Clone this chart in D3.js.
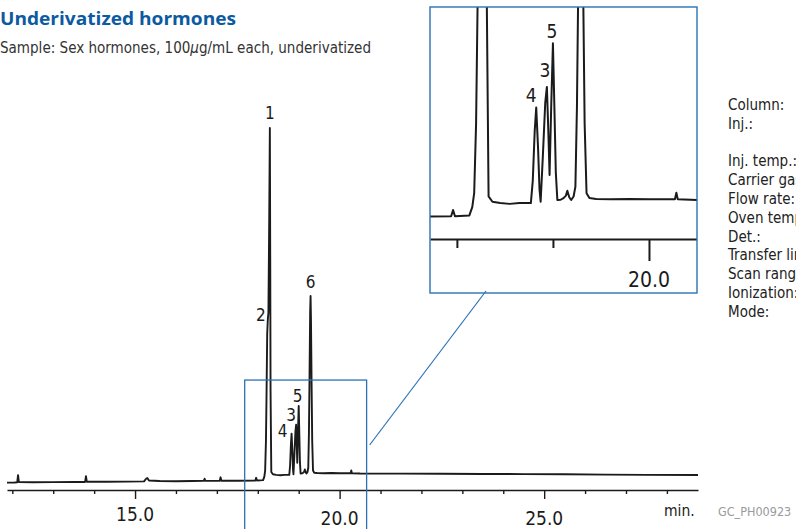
<!DOCTYPE html>
<html>
<head>
<meta charset="utf-8">
<script src="https://d3js.org/d3.v7.min.js"></script>
<style>
  body { margin: 0; background: #fff; }
  svg { display: block; }
  .narrow { font-family: 'Liberation Sans Narrow', 'DejaVu Sans Condensed', 'Roboto Condensed', 'DejaVu Sans', sans-serif; }
</style>
</head>
<body>
<div id="chart"></div>
<script>
// GC-MS trace, retention time (min) vs. detector response (% of peak 1)
var traceTimes = [
  11.87, 12.05, 12.12, 12.14, 12.16, 12.5, 13.0, 13.5, 13.78, 13.8, 13.82, 14.3, 14.8,
  15.22, 15.27, 15.3, 15.34, 15.6, 16.0, 16.4, 16.68, 16.7, 16.72, 17.07, 17.09, 17.11,
  17.5, 17.94, 17.96, 17.98, 18.13, 18.16, 18.18, 18.20, 18.215, 18.23, 18.245, 18.26,
  18.28, 18.295, 18.305, 18.312, 18.33, 18.37, 18.45, 18.55, 18.65, 18.77, 18.79, 18.81,
  18.826, 18.845, 18.86, 18.872, 18.895, 18.92, 18.937, 18.952, 18.965, 18.982, 19.0,
  19.015, 19.03, 19.046, 19.08, 19.11, 19.135, 19.15, 19.17, 19.19, 19.215, 19.234,
  19.25, 19.265, 19.28, 19.29, 19.30, 19.315, 19.33, 19.35, 19.38, 19.45, 19.6, 19.8,
  20.0, 20.2, 20.27, 20.285, 20.3, 20.5, 21.5, 22.5, 23.5, 24.5, 25.5, 26.5, 27.5, 28.76
];
var traceValues = [
  0.1, 0.15, 0.2, 2.2, 0.25, 0.2, 0.25, 0.3, 0.3, 1.9, 0.35, 0.35, 0.4,
  0.45, 1.2, 1.4, 0.7, 0.55, 0.5, 0.55, 0.6, 1.2, 0.6, 0.65, 1.6, 0.65,
  0.65, 0.7, 1.46, 0.7, 0.8, 1.8, 3.5, 12, 26, 42, 46, 48,
  75, 100, 60, 26, 3.1, 2.46, 2.3, 2.2, 2.3, 2.3, 5, 11,
  13.9, 9, 4, 2.46, 8, 14.5, 16.4, 11, 5.7, 14, 21.7,
  14, 6, 2.67, 2.7, 2.9, 3.2, 3.8, 3.0, 2.67, 3.1, 4.3,
  14, 30, 48, 52.7, 46, 28, 12, 3.5, 2.9, 2.8, 2.75, 2.8,
  2.75, 2.75, 2.75, 3.55, 2.75, 2.67, 2.65, 2.6, 2.55, 2.5, 2.45, 2.35, 2.3, 2.25
];

// numbered peaks
var peakNames = ["1", "2", "3", "4", "5", "6"];
var peakTimes = [18.295, 18.245, 18.937, 18.826, 19.0, 19.29];
var peakValues = [100, 46, 16.4, 13.9, 21.7, 52.7];

// axis ticks
var mainTicks = d3.range(12, 29);
var mainLabels = [15, 20, 25];
var insetTicks = [18, 19, 20];
var insetLabels = [20];

var infoLabels = ["Column:", "Inj.:", "", "Inj. temp.:", "Carrier gas:", "Flow rate:",
  "Oven temp.:", "Det.:", "Transfer line:", "Scan range:", "Ionization:", "Mode:"];

var W = 796, H = 529;
var BLUE = "#2a72b5";
var INK = "#1b1b1b";

var trace = traceTimes.map(function (t, i) { return { t: t, v: traceValues[i] }; });

var svg = d3.select("#chart").append("svg")
  .attr("width", W)
  .attr("height", H);

// header
svg.append("text")
  .attr("x", 0).attr("y", 25)
  .attr("font-family", "'Open Sans', 'Noto Sans', sans-serif")
  .attr("font-weight", "bold")
  .attr("font-size", 18.5)
  .attr("fill", "#0b5aa2")
  .attr("textLength", 236)
  .attr("lengthAdjust", "spacingAndGlyphs")
  .text("Underivatized hormones");

var sub = svg.append("text")
  .attr("class", "narrow")
  .attr("x", 0).attr("y", 53)
  .attr("font-size", 16.5)
  .attr("fill", "#333")
  .attr("textLength", 371)
  .attr("lengthAdjust", "spacingAndGlyphs");
sub.append("tspan").text("Sample: Sex hormones, 100");
sub.append("tspan").attr("font-style", "italic").text("\u03bc");
sub.append("tspan").text("g/mL each, underivatized");

// main chromatogram
var x = d3.scaleLinear().domain([11.87, 28.76]).range([7, 698]);
var y = d3.scaleLinear().domain([0, 100]).range([483, 128]);

var line = d3.line()
  .x(function (d) { return x(d.t); })
  .y(function (d) { return y(d.v); });

svg.append("path")
  .datum(trace)
  .attr("d", line)
  .attr("fill", "none")
  .attr("stroke", INK)
  .attr("stroke-width", 1.9)
  .attr("stroke-linejoin", "round");

var axisY = 490;
var gx = svg.append("g")
  .attr("transform", "translate(0," + axisY + ")")
  .call(d3.axisBottom(x).tickValues(mainTicks).tickSize(4).tickSizeOuter(0).tickFormat(""));
gx.select(".domain").attr("stroke", INK).attr("stroke-width", 1.6);
gx.selectAll(".tick line")
  .attr("stroke", INK)
  .attr("stroke-width", 1.4)
  .attr("y2", function (d) { return mainLabels.indexOf(d) >= 0 ? 9 : 4; });

svg.selectAll(".main-label")
  .data(mainLabels)
  .enter().append("text")
  .attr("class", "narrow main-label")
  .attr("x", function (d) { return x(d); })
  .attr("y", function (d, i) { return i === 0 ? 521 : 525; })
  .attr("text-anchor", "middle")
  .attr("font-size", 19)
  .attr("fill", INK)
  .text(function (d) { return d.toFixed(1); });

svg.append("text")
  .attr("class", "narrow")
  .attr("x", 664).attr("y", 516)
  .attr("font-size", 15.5)
  .attr("fill", INK)
  .text("min.");

svg.append("text")
  .attr("class", "narrow")
  .attr("x", 718).attr("y", 516)
  .attr("font-size", 12.5)
  .attr("fill", "#9a9a9a")
  .text("GC_PH00923");

// peak numbers in the main view (offsets in px from the apex)
var mainOffsets = { "1": [0, -9], "2": [-7, 1], "3": [-5, -4], "4": [-9, 3], "5": [-1, -4], "6": [0, -8] };
svg.selectAll(".peak-label")
  .data(peakNames)
  .enter().append("text")
  .attr("class", "narrow peak-label")
  .attr("x", function (d, i) { return x(peakTimes[i]) + mainOffsets[d][0]; })
  .attr("y", function (d, i) { return y(peakValues[i]) + mainOffsets[d][1]; })
  .attr("text-anchor", "middle")
  .attr("font-size", 17)
  .attr("fill", INK)
  .text(function (d) { return d; });

// zoom box in main view
var boxL = x(17.68), boxR = x(20.66), boxT = y(29);
svg.append("rect")
  .attr("x", boxL).attr("y", boxT)
  .attr("width", boxR - boxL).attr("height", H + 10 - boxT)
  .attr("fill", "none")
  .attr("stroke", BLUE)
  .attr("stroke-width", 1.3);

// inset
var inset = { x0: 430, x1: 697, y0: 7, y1: 293 };
var xi = d3.scaleLinear().domain([17.72, 20.5]).range([inset.x0, inset.x1]);
var yi = d3.scaleLinear().domain([0, 26]).range([222, 7.8]);

svg.append("line")
  .attr("x1", boxR + 3).attr("y1", 445)
  .attr("x2", inset.x0 + 56).attr("y2", inset.y1 - 2)
  .attr("stroke", BLUE)
  .attr("stroke-width", 1.2);

svg.append("clipPath").attr("id", "inset-clip")
  .append("rect")
  .attr("x", inset.x0).attr("y", inset.y0)
  .attr("width", inset.x1 - inset.x0).attr("height", inset.y1 - inset.y0);

var gi = svg.append("g").attr("clip-path", "url(#inset-clip)");

var lineInset = d3.line()
  .x(function (d) { return xi(d.t); })
  .y(function (d) { return yi(d.v); });

gi.append("path")
  .datum(trace)
  .attr("d", lineInset)
  .attr("fill", "none")
  .attr("stroke", INK)
  .attr("stroke-width", 2)
  .attr("stroke-linejoin", "round");

var insetAxisY = 239;
var gxi = gi.append("g")
  .attr("transform", "translate(0," + insetAxisY + ")")
  .call(d3.axisBottom(xi).tickValues(insetTicks).tickSize(9).tickSizeOuter(0).tickFormat(""));
gxi.select(".domain").attr("stroke", INK).attr("stroke-width", 2);
gxi.selectAll(".tick line")
  .attr("stroke", INK)
  .attr("stroke-width", 2)
  .attr("y2", function (d) { return insetLabels.indexOf(d) >= 0 ? 22 : 9; });

gi.selectAll(".inset-label")
  .data(insetLabels)
  .enter().append("text")
  .attr("class", "narrow inset-label")
  .attr("x", function (d) { return xi(d); })
  .attr("y", 287)
  .attr("text-anchor", "middle")
  .attr("font-size", 21)
  .attr("fill", INK)
  .text(function (d) { return d.toFixed(1); });

// only the small peaks are numbered inside the inset
var insetOffsets = { "3": [-2, -10], "4": [-5, -5], "5": [-1, -5] };
gi.selectAll(".inset-peak")
  .data(peakNames.filter(function (d) { return insetOffsets[d]; }))
  .enter().append("text")
  .attr("class", "narrow inset-peak")
  .attr("x", function (d) { var i = peakNames.indexOf(d); return xi(peakTimes[i]) + insetOffsets[d][0]; })
  .attr("y", function (d) { var i = peakNames.indexOf(d); return yi(peakValues[i]) + insetOffsets[d][1]; })
  .attr("text-anchor", "middle")
  .attr("font-size", 19)
  .attr("fill", INK)
  .text(function (d) { return d; });

svg.append("rect")
  .attr("x", inset.x0).attr("y", inset.y0)
  .attr("width", inset.x1 - inset.x0).attr("height", inset.y1 - inset.y0)
  .attr("fill", "none")
  .attr("stroke", BLUE)
  .attr("stroke-width", 1.4);

// conditions list on the right (cut by the page edge, as in the source)
svg.selectAll(".info")
  .data(infoLabels)
  .enter().append("text")
  .attr("class", "narrow info")
  .attr("x", 728)
  .attr("y", function (d, i) { return 110 + i * 18.8; })
  .attr("font-size", 15)
  .attr("fill", "#222")
  .text(function (d) { return d; });
</script>
</body>
</html>
